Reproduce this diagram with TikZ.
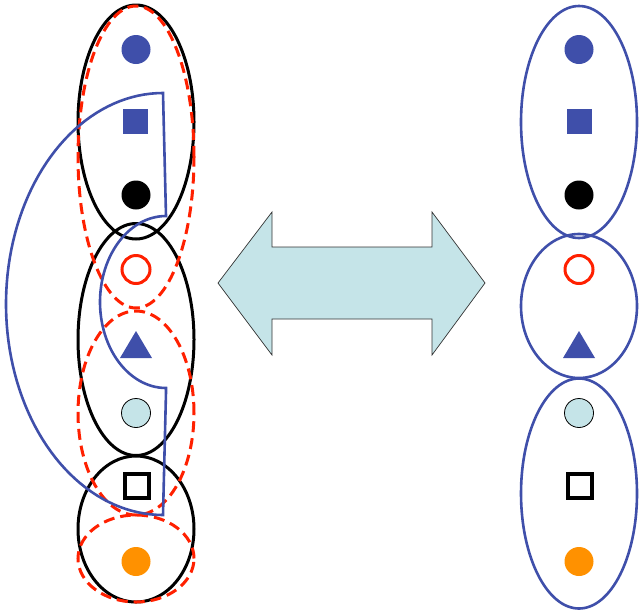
\documentclass[tikz,border=0pt]{standalone}
\usetikzlibrary{shapes.geometric}
\definecolor{sblue}{RGB}{63,79,170}
\definecolor{sred}{RGB}{255,32,0}
\definecolor{sorange}{RGB}{255,145,0}
\definecolor{slight}{RGB}{197,228,232}
\tikzset{
  blackring/.style={draw=black,line width=3pt},
  redring/.style={draw=sred,line width=3pt,dash pattern=on 11pt off 6pt},
  bluering/.style={draw=sblue,line width=2.6pt},
  bluedot/.style={circle,fill=sblue,inner sep=0pt,minimum size=29pt},
  blackdot/.style={circle,fill=black,inner sep=0pt,minimum size=29pt},
  orangedot/.style={circle,fill=sorange,inner sep=0pt,minimum size=29pt},
  lightdot/.style={circle,fill=slight,draw=black,line width=0.8pt,inner sep=0pt,minimum size=29pt},
  redopen/.style={circle,draw=sred,line width=3pt,inner sep=0pt,minimum size=28pt},
  bluesq/.style={rectangle,fill=sblue,inner sep=0pt,minimum size=25pt},
  blacksq/.style={rectangle,draw=black,line width=4pt,inner sep=0pt,minimum size=24pt},
  bluetri/.style={fill=sblue},
  bigarrow/.style={fill=slight,draw=black!80,line width=0.7pt,line join=miter}
}
\begin{document}
\begin{tikzpicture}[x=1pt,y=-1pt]
\useasboundingbox (0,0) rectangle (639,614);
% left black ellipses
\draw[blackring] (136,122) ellipse [x radius=58pt, y radius=117pt];
\draw[blackring] (136,339.5) ellipse [x radius=58pt, y radius=116pt];
\draw[blackring] (136,529) ellipse [x radius=58pt, y radius=73pt];
% left red dashed ellipses
\draw[redring] (136,157) ellipse [x radius=58pt, y radius=151pt];
\draw[redring] (136,413) ellipse [x radius=58pt, y radius=102pt];
\draw[redring] (136,558.5) ellipse [x radius=58pt, y radius=43.5pt];
% blue crescent
\draw[bluering,line join=miter]
  plot[domain=90:270,samples=80] ({163+157*cos(\x)},{304-211*sin(\x)})
  -- (166,392)
  -- plot[domain=270:90,samples=60] ({166+66*cos(\x)},{302-86*sin(\x)})
  -- cycle;
% left symbols
\node[bluedot] (l1) at (136,49.5) {};
\node[bluesq] (l2) at (135.5,121.5) {};
\node[blackdot] (l3) at (136,195) {};
\node[redopen] (l4) at (136,269.5) {};
\fill[bluetri] (120,358) -- (152,358) -- (136,331) -- cycle;
\node[lightdot] (l6) at (136,413) {};
\node[blacksq] (l7) at (137,485.5) {};
\node[orangedot] (l8) at (136,561.5) {};
% double arrow
\draw[bigarrow] (218,283) -- (272,212) -- (272,247) -- (432,247) -- (432,212)
  -- (485,283) -- (432,355) -- (432,319) -- (272,319) -- (272,355) -- cycle;
% right blue ellipses
\draw[bluering] (579,122) ellipse [x radius=58pt, y radius=116pt];
\draw[bluering] (579,306) ellipse [x radius=58pt, y radius=72pt];
\draw[bluering] (579,493.5) ellipse [x radius=58pt, y radius=115pt];
% right symbols
\node[bluedot] (r1) at (579,49.5) {};
\node[bluesq] (r2) at (579,121.5) {};
\node[blackdot] (r3) at (579,195) {};
\node[redopen] (r4) at (579,269.5) {};
\fill[bluetri] (563,358) -- (595,358) -- (579,331) -- cycle;
\node[lightdot] (r6) at (579,413) {};
\node[blacksq] (r7) at (580,485.5) {};
\node[orangedot] (r8) at (579,561.5) {};
\end{tikzpicture}
\end{document}
